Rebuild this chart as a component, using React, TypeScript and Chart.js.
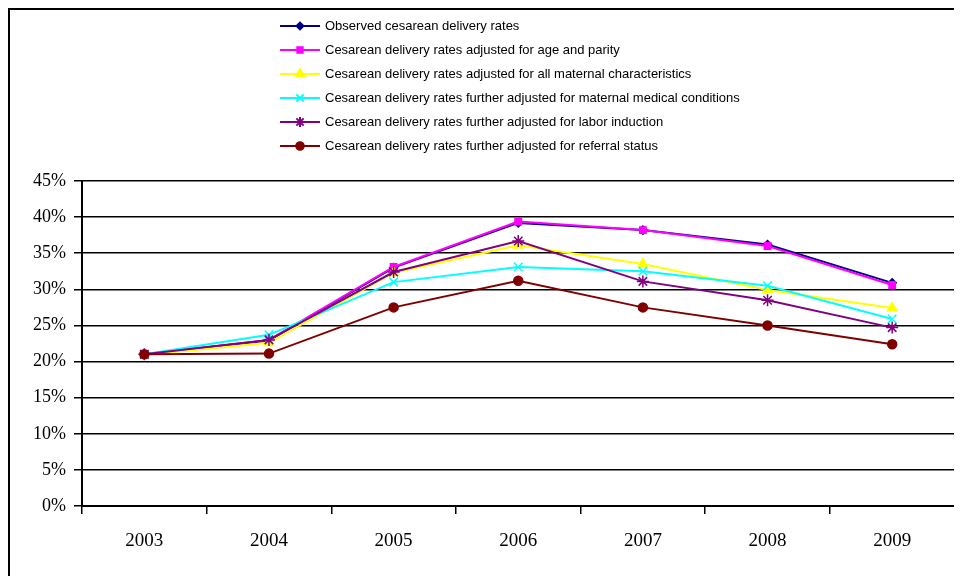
import React, { useEffect, useRef } from "react";
import { Chart, registerables } from "chart.js";
import { drawPoint } from "chart.js/helpers";

Chart.register(...registerables);

const years = ["2003", "2004", "2005", "2006", "2007", "2008", "2009"];
const seriesNames = [
  "Observed cesarean delivery rates",
  "Cesarean delivery rates adjusted for age and parity",
  "Cesarean delivery rates adjusted for all maternal characteristics",
  "Cesarean delivery rates further adjusted for maternal medical conditions",
  "Cesarean delivery rates further adjusted for labor induction",
  "Cesarean delivery rates further adjusted for referral status",
];
const observed = [21.0, 22.9, 33.0, 39.2, 38.2, 36.2, 30.9];
const ageParity = [21.0, 23.0, 33.1, 39.4, 38.2, 36.0, 30.6];
const maternalChars = [20.9, 22.6, 32.3, 36.1, 33.5, 29.9, 27.4];
const medicalConds = [21.0, 23.7, 31.0, 33.1, 32.5, 30.5, 25.9];
const laborInduction = [21.0, 23.0, 32.4, 36.7, 31.1, 28.5, 24.7];
const referralStatus = [21.0, 21.1, 27.5, 31.2, 27.5, 25.0, 22.4];
const yTicks = [0, 5, 10, 15, 20, 25, 30, 35, 40, 45];

const colors = ["#000080", "#FF00FF", "#FFFF00", "#00FFFF", "#800080", "#800000"];
const markers = ["rectRot", "rect", "triangle", "crossRot", "star", "circle"];
const radii = [4, 4.5, 5.5, 6, 6, 4.5];

const legendPlugin = {
  id: "customLegend",
  afterDraw(chart: any) {
    const ctx = chart.ctx;
    ctx.save();
    ctx.font = "13px 'Liberation Sans', Arial, sans-serif";
    ctx.textBaseline = "middle";
    ctx.textAlign = "left";
    seriesNames.forEach((name, i) => {
      const y = 16 + i * 24;
      ctx.strokeStyle = colors[i];
      ctx.lineWidth = 2;
      ctx.beginPath();
      ctx.moveTo(270, y);
      ctx.lineTo(310, y);
      ctx.stroke();
      ctx.fillStyle = colors[i];
      drawPoint(ctx, { pointStyle: markers[i], radius: radii[i] * 0.85, borderWidth: 1.5, rotation: 0 } as any, 290, y);
      ctx.fillStyle = "#000";
      ctx.fillText(name, 315, y);
    });
    ctx.restore();
  },
};

export default function App() {
  const ref = useRef<HTMLCanvasElement>(null);
  useEffect(() => {
    if (!ref.current) return;
    const dataArrays = [observed, ageParity, maternalChars, medicalConds, laborInduction, referralStatus];
    const chart = new Chart(ref.current, {
      type: "line",
      data: {
        labels: years,
        datasets: dataArrays.map((d, i) => ({
          label: seriesNames[i],
          data: d,
          borderColor: colors[i],
          backgroundColor: colors[i],
          pointBackgroundColor: colors[i],
          pointBorderColor: colors[i],
          pointStyle: markers[i] as any,
          pointRadius: radii[i],
          pointBorderWidth: 1.5,
          borderWidth: 2,
          tension: 0,
          order: 5 - i,
        })),
      },
      options: {
        responsive: false,
        animation: false,
        layout: { padding: { top: 171, right: 7, left: 0, bottom: 0 } },
        plugins: { legend: { display: false }, tooltip: { enabled: false } },
        scales: {
          x: {
            type: "category",
            offset: true,
            afterFit(scale: any) {
              scale.height = 70;
            },
            grid: { offset: true, drawOnChartArea: false, tickLength: 8, color: "#000", lineWidth: 1.5 },
            border: { color: "#000", width: 2 },
            ticks: {
              color: "#000",
              padding: 16,
              maxRotation: 0,
              font: { family: "'Liberation Serif', 'Times New Roman', serif", size: 19 },
            },
          },
          y: {
            min: 0,
            max: 45,
            afterFit(scale: any) {
              scale.width = 72;
            },
            afterBuildTicks(scale: any) {
              scale.ticks = yTicks.map((v) => ({ value: v }));
            },
            grid: { tickLength: 8, color: "#000", lineWidth: 1.5 },
            border: { color: "#000", width: 2 },
            ticks: {
              color: "#000",
              padding: 8,
              callback: (v: any) => v + "%",
              font: { family: "'Liberation Serif', 'Times New Roman', serif", size: 18 },
            },
          },
        },
      },
      plugins: [legendPlugin],
    });
    return () => chart.destroy();
  }, []);
  return (
    <div
      style={{
        width: 954,
        height: 568,
        borderTop: "2px solid #000",
        borderLeft: "2px solid #000",
        boxSizing: "border-box",
        background: "#fff",
      }}
    >
      <canvas ref={ref} width={952} height={566} style={{ display: "block" }} />
    </div>
  );
}
